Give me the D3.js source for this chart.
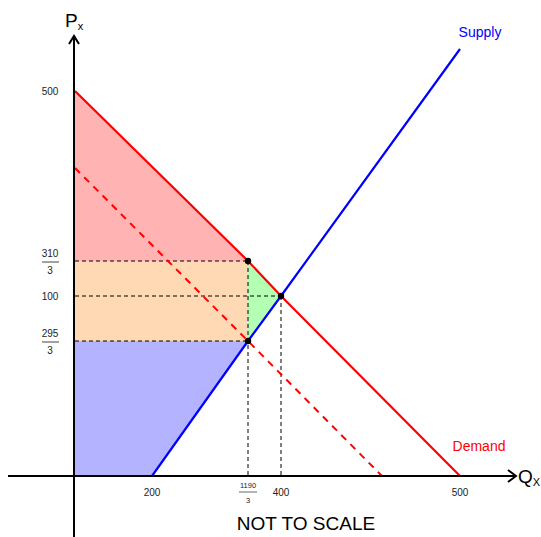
<!DOCTYPE html>
<html><head><meta charset="utf-8">
<script src="https://cdn.jsdelivr.net/npm/d3@7"></script>
<style>html,body{margin:0;padding:0;background:#fff}svg{display:block}</style>
</head><body>
<script>
// Diagram data (not to scale)
const qTax = 1190/3, pBuyer = 310/3, pSeller = 295/3;
const demand = [[0,500],[qTax,pBuyer],[400,100],[500,0]];
const demandTax = [[0,495],[qTax,pSeller],[495,0]];
const supply = [[200,0],[qTax,pSeller],[400,100],[500,575]];
const points = [[qTax,pBuyer],[400,100],[qTax,pSeller]];
const csArea = [[0,500],[qTax,pBuyer],[0,pBuyer]];
const taxArea = [[0,pBuyer],[qTax,pBuyer],[qTax,pSeller],[0,pSeller]];
const dwlArea = [[qTax,pBuyer],[400,100],[qTax,pSeller]];
const psArea = [[0,0],[200,0],[qTax,pSeller],[0,pSeller]];
const xTicks = [200, qTax, 400, 500];
const xTickNum = ["200","1190","400","500"];
const xTickDen = ["","3","",""];
const yTicks = [500, pBuyer, 100, pSeller];
const yTickNum = ["500","310","100","295"];
const yTickDen = ["","3","","3"];

const W = 541, H = 537;
const svg = d3.select("body").append("svg").attr("width",W).attr("height",H);
// piecewise (not-to-scale) scales
const x = d3.scaleLinear().domain([0,200,qTax,400,495,500,560]).range([75,152,248,281,382,460,517]);
const y = d3.scaleLinear().domain([0,pSeller,100,pBuyer,495,500,600]).range([476,341,296,261,168,91,35]);
const line = d3.line().x(d=>x(d[0])).y(d=>y(d[1]));
const poly = pts => line(pts) + "Z";

svg.append("path").attr("d",poly(csArea)).attr("fill","#ffb3b3");
svg.append("path").attr("d",poly(taxArea)).attr("fill","#ffd9b3");
svg.append("path").attr("d",poly(dwlArea)).attr("fill","#b3ffb3");
svg.append("path").attr("d",poly(psArea)).attr("fill","#b3b3ff");

// dashed guides
const guides = [
  [[0,pBuyer],[qTax,pBuyer]],
  [[0,100],[400,100]],
  [[0,pSeller],[qTax,pSeller]],
  [[qTax,pBuyer],[qTax,0]],
  [[400,100],[400,0]]
];
svg.selectAll(".guide").data(guides).join("path").attr("class","guide")
  .attr("d",line).attr("fill","none").attr("stroke","#000").attr("stroke-width",1).attr("stroke-dasharray","4,3");

svg.append("path").attr("d",line(demandTax)).attr("fill","none").attr("stroke","#ff0000").attr("stroke-width",2).attr("stroke-dasharray","7,6");
svg.append("path").attr("d",line(demand)).attr("fill","none").attr("stroke","#ff0000").attr("stroke-width",2.2);
svg.append("path").attr("d",line(supply)).attr("fill","none").attr("stroke","#0000ff").attr("stroke-width",2.2);

// axes
svg.append("line").attr("x1",x(0)-1).attr("x2",x(0)-1).attr("y1",H).attr("y2",y(600)+2).attr("stroke","#000").attr("stroke-width",2);
svg.append("path").attr("d",`M${x(0)-6},${y(600)+9}L${x(0)-1},${y(600)+1}L${x(0)+4},${y(600)+9}`).attr("fill","none").attr("stroke","#000").attr("stroke-width",2);
svg.append("line").attr("x1",8).attr("x2",x(560)-1).attr("y1",y(0)).attr("y2",y(0)).attr("stroke","#000").attr("stroke-width",2);
svg.append("path").attr("d",`M${x(560)-9},${y(0)-6}L${x(560)-1},${y(0)}L${x(560)-9},${y(0)+6}`).attr("fill","none").attr("stroke","#000").attr("stroke-width",2);

svg.selectAll(".pt").data(points).join("circle").attr("class","pt")
  .attr("cx",d=>x(d[0])).attr("cy",d=>y(d[1])).attr("r",3.2).attr("fill","#000");

const font = "Liberation Sans, Arial, sans-serif";
// y tick labels
yTicks.forEach((v,i)=>{
  const cy = y(v);
  if(yTickDen[i]){
    svg.append("text").attr("x",50).attr("y",cy-4).attr("text-anchor","middle").attr("font-family",font).attr("font-size",10).attr("fill","#222").text(yTickNum[i]);
    svg.append("line").attr("x1",42).attr("x2",59).attr("y1",cy+1).attr("y2",cy+1).attr("stroke","#444").attr("stroke-width",1);
    svg.append("text").attr("x",50).attr("y",cy+13).attr("text-anchor","middle").attr("font-family",font).attr("font-size",10).attr("fill","#222").text(yTickDen[i]);
  } else {
    svg.append("text").attr("x",50).attr("y",cy+4).attr("text-anchor","middle").attr("font-family",font).attr("font-size",10).attr("fill","#222").text(yTickNum[i]);
  }
});
// x tick labels
xTicks.forEach((v,i)=>{
  const cx = x(v);
  if(xTickDen[i]){
    svg.append("text").attr("x",cx).attr("y",488).attr("text-anchor","middle").attr("font-family",font).attr("font-size",7.5).attr("fill","#222").text(xTickNum[i]);
    svg.append("line").attr("x1",cx-9).attr("x2",cx+9).attr("y1",492).attr("y2",492).attr("stroke","#444").attr("stroke-width",0.8);
    svg.append("text").attr("x",cx).attr("y",503).attr("text-anchor","middle").attr("font-family",font).attr("font-size",7.5).attr("fill","#222").text(xTickDen[i]);
  } else {
    svg.append("text").attr("x",cx).attr("y",496).attr("text-anchor","middle").attr("font-family",font).attr("font-size",10).attr("fill","#222").text(xTickNum[i]);
  }
});

// axis titles
const px = svg.append("text").attr("x",65).attr("y",27).attr("font-family",font).attr("font-size",19).attr("fill","#000");
px.append("tspan").text("P");
px.append("tspan").attr("font-size",11).attr("dy",3).text("x");
const qx = svg.append("text").attr("x",518).attr("y",483).attr("font-family",font).attr("font-size",19).attr("fill","#000");
qx.append("tspan").text("Q");
qx.append("tspan").attr("font-size",11).attr("dy",3).text("X");

svg.append("text").attr("x",480).attr("y",37).attr("text-anchor","middle").attr("font-family",font).attr("font-size",14).attr("fill","#0000ff").text("Supply");
svg.append("text").attr("x",479).attr("y",451).attr("text-anchor","middle").attr("font-family",font).attr("font-size",14).attr("fill","#ff0000").text("Demand");
svg.append("text").attr("x",306).attr("y",530).attr("text-anchor","middle").attr("font-family",font).attr("font-size",19).attr("fill","#000").text("NOT TO SCALE");
</script>
</body></html>
